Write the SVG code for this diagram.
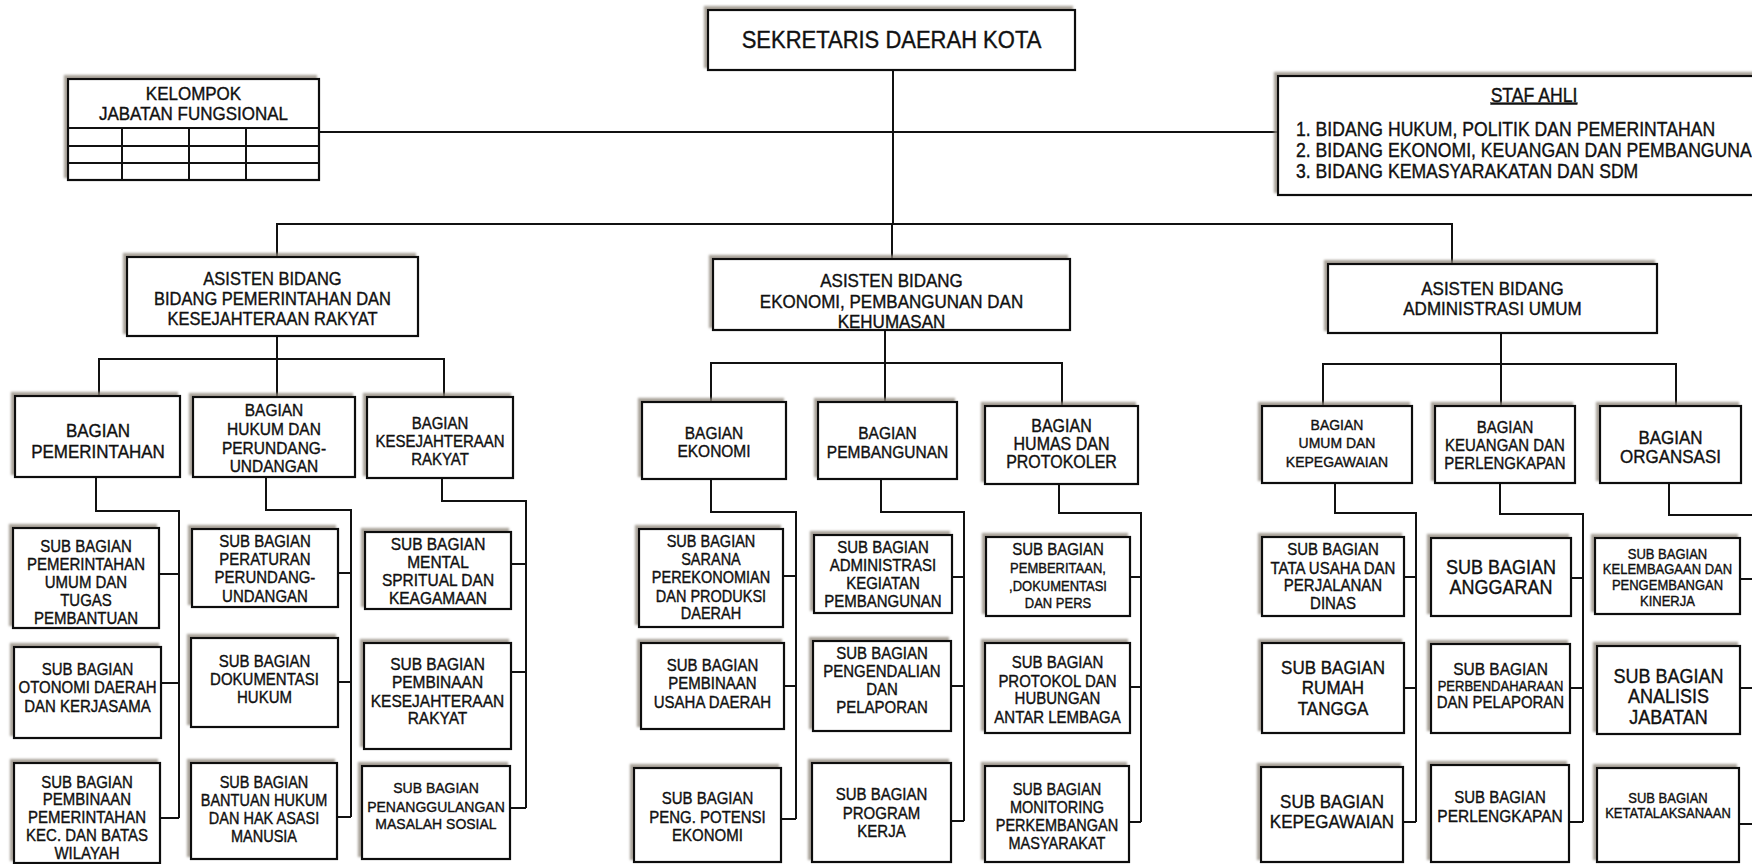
<svg xmlns="http://www.w3.org/2000/svg" width="1752" height="864" viewBox="0 0 1752 864">
<defs>
<filter id="sh" x="-10%" y="-10%" width="120%" height="120%">
<feDropShadow dx="-3" dy="-3" stdDeviation="0.8" flood-color="#8f877c" flood-opacity="0.75"/>
</filter>
<style>
.box{fill:#fff;stroke:#111;stroke-width:2.2;filter:url(#sh)}
.ln{fill:none;stroke:#111;stroke-width:2}
text{font-family:"Liberation Sans",Arial,sans-serif;fill:#111;stroke:#111;stroke-width:0.35;text-anchor:middle;transform-box:fill-box;transform-origin:center;transform:scaleY(1.1)}
.f13{font-size:13px}.f14{font-size:14px}.f145{font-size:14.5px}.f15{font-size:15px}.f155{font-size:15.5px}
.f16{font-size:16px}.f165{font-size:16.5px}.f17{font-size:17px}.f176{font-size:17.6px}.f18{font-size:18px}.f22{font-size:22px}
.lft{text-anchor:start}
</style>
</defs>
<rect width="1752" height="864" fill="#fff"/>

<g id="connectors">
<path class="ln" d="M319,132 H1278"/>
<path class="ln" d="M893,70 V224"/>
<path class="ln" d="M277,257 V224 H1452 V264"/>
<path class="ln" d="M892,224 V259"/>
<path class="ln" d="M277,336 V359 M99,396 V359 H444 V397 M277,359 V397"/>
<path class="ln" d="M885,330 V363 M711,402 V363 H1062 V406 M885,363 V402"/>
<path class="ln" d="M1501,333 V364 M1323,406 V364 H1676 V406 M1501,364 V406"/>
<path class="ln" d="M96,477 V511 H179 V818 M159,574 H179 M161,683 H179 M160,818 H179"/>
<path class="ln" d="M266,477 V510 H351 V817 M338,573 H351 M338,682 H351 M337,817 H351"/>
<path class="ln" d="M442,478 V501 H526 V808 M511,564 H526 M511,672 H526 M510,808 H526"/>
<path class="ln" d="M711,479 V512 H796 V819 M783,576 H796 M784,686 H796 M781,819 H796"/>
<path class="ln" d="M881,479 V512 H964 V821 M952,577 H964 M951,686 H964 M951,821 H964"/>
<path class="ln" d="M1059,484 V513 H1141 V822 M1130,577 H1141 M1130,687 H1141 M1129,822 H1141"/>
<path class="ln" d="M1335,483 V513 H1416 V822 M1404,577 H1416 M1404,688 H1416 M1403,822 H1416"/>
<path class="ln" d="M1500,483 V514 H1583 V822 M1571,578 H1583 M1570,688 H1583 M1569,822 H1583"/>
<path class="ln" d="M1669,483 V515 H1760 M1740,579 H1760 M1740,688 H1760 M1739,824 H1760"/>
</g>

<g id="sekda">
<rect class="box" x="708" y="10" width="367" height="60"/>
<text class="f22" x="891.5" y="47">SEKRETARIS DAERAH KOTA</text>
</g>

<g id="kelompok">
<rect class="box" x="68" y="79" width="251" height="101"/>
<text class="f17" x="193.5" y="99">KELOMPOK</text>
<text class="f17" x="193.5" y="119">JABATAN FUNGSIONAL</text>
<path class="ln" d="M68,128 H319 M68,146 H319 M68,163 H319 M122,128 V180 M189,128 V180 M246,128 V180"/>
</g>

<g id="staf-ahli">
<rect class="box" x="1278" y="76" width="500" height="119"/>
<text class="f176" x="1534" y="101" text-decoration="underline">STAF AHLI</text>
<text class="f176 lft" x="1296" y="135">1. BIDANG HUKUM, POLITIK DAN PEMERINTAHAN</text>
<text class="f176 lft" x="1296" y="156">2. BIDANG EKONOMI, KEUANGAN DAN PEMBANGUNAN</text>
<text class="f176 lft" x="1296" y="177">3. BIDANG KEMASYARAKATAN DAN SDM</text>
</g>

<g id="asisten-1">
<rect class="box" x="127" y="257" width="291" height="79"/>
<text class="f165" x="272.5" y="284">ASISTEN BIDANG</text>
<text class="f165" x="272.5" y="304">BIDANG PEMERINTAHAN DAN</text>
<text class="f165" x="272.5" y="324">KESEJAHTERAAN RAKYAT</text>
</g>
<g id="asisten-2">
<rect class="box" x="713" y="259" width="357" height="71"/>
<text class="f17" x="891.5" y="286">ASISTEN BIDANG</text>
<text class="f17" x="891.5" y="307">EKONOMI, PEMBANGUNAN DAN</text>
<text class="f17" x="891.5" y="327">KEHUMASAN</text>
</g>
<g id="asisten-3">
<rect class="box" x="1328" y="264" width="329" height="69"/>
<text class="f17" x="1492.5" y="294">ASISTEN BIDANG</text>
<text class="f17" x="1492.5" y="314">ADMINISTRASI UMUM</text>
</g>

<g id="bagian-pemerintahan">
<rect class="box" x="15" y="396" width="165" height="81"/>
<text class="f17" x="98" y="436">BAGIAN</text>
<text class="f17" x="98" y="457">PEMERINTAHAN</text>
</g>
<g id="bagian-hukum">
<rect class="box" x="193" y="397" width="162" height="80"/>
<text class="f155" x="274" y="415">BAGIAN</text>
<text class="f155" x="274" y="434">HUKUM DAN</text>
<text class="f155" x="274" y="453">PERUNDANG-</text>
<text class="f155" x="274" y="471">UNDANGAN</text>
</g>
<g id="bagian-kesra">
<rect class="box" x="367" y="397" width="146" height="81"/>
<text class="f15" x="440" y="428">BAGIAN</text>
<text class="f15" x="440" y="446">KESEJAHTERAAN</text>
<text class="f15" x="440" y="464">RAKYAT</text>
</g>
<g id="bagian-ekonomi">
<rect class="box" x="642" y="402" width="144" height="77"/>
<text class="f155" x="714" y="438">BAGIAN</text>
<text class="f155" x="714" y="456">EKONOMI</text>
</g>
<g id="bagian-pembangunan">
<rect class="box" x="818" y="402" width="139" height="77"/>
<text class="f155" x="887.5" y="438">BAGIAN</text>
<text class="f155" x="887.5" y="457">PEMBANGUNAN</text>
</g>
<g id="bagian-humas">
<rect class="box" x="985" y="406" width="153" height="78"/>
<text class="f16" x="1061.5" y="431">BAGIAN</text>
<text class="f16" x="1061.5" y="449">HUMAS DAN</text>
<text class="f16" x="1061.5" y="467">PROTOKOLER</text>
</g>
<g id="bagian-umum">
<rect class="box" x="1262" y="406" width="150" height="77"/>
<text class="f14" x="1337" y="430">BAGIAN</text>
<text class="f14" x="1337" y="448">UMUM DAN</text>
<text class="f14" x="1337" y="467">KEPEGAWAIAN</text>
</g>
<g id="bagian-keuangan">
<rect class="box" x="1435" y="406" width="140" height="77"/>
<text class="f15" x="1505" y="432">BAGIAN</text>
<text class="f15" x="1505" y="450">KEUANGAN DAN</text>
<text class="f15" x="1505" y="468">PERLENGKAPAN</text>
</g>
<g id="bagian-organsasi">
<rect class="box" x="1600" y="406" width="141" height="77"/>
<text class="f17" x="1670.5" y="443">BAGIAN</text>
<text class="f17" x="1670.5" y="462">ORGANSASI</text>
</g>

<g id="sb-pemerintahan-umum">
<rect class="box" x="13" y="528" width="146" height="100"/>
<text class="f15" x="86" y="551">SUB BAGIAN</text>
<text class="f15" x="86" y="569">PEMERINTAHAN</text>
<text class="f15" x="86" y="587">UMUM DAN</text>
<text class="f15" x="86" y="605">TUGAS</text>
<text class="f15" x="86" y="623">PEMBANTUAN</text>
</g>
<g id="sb-otonomi">
<rect class="box" x="14" y="647" width="147" height="91"/>
<text class="f15" x="87.5" y="674">SUB BAGIAN</text>
<text class="f15" x="87.5" y="692">OTONOMI DAERAH</text>
<text class="f15" x="87.5" y="711">DAN KERJASAMA</text>
</g>
<g id="sb-pembinaan-pemerintahan">
<rect class="box" x="14" y="763" width="146" height="100"/>
<text class="f15" x="87" y="787">SUB BAGIAN</text>
<text class="f15" x="87" y="804">PEMBINAAN</text>
<text class="f15" x="87" y="822">PEMERINTAHAN</text>
<text class="f15" x="87" y="840">KEC. DAN BATAS</text>
<text class="f15" x="87" y="858">WILAYAH</text>
</g>
<g id="sb-peraturan">
<rect class="box" x="192" y="529" width="146" height="78"/>
<text class="f15" x="265" y="546">SUB BAGIAN</text>
<text class="f15" x="265" y="564">PERATURAN</text>
<text class="f15" x="265" y="582">PERUNDANG-</text>
<text class="f15" x="265" y="601">UNDANGAN</text>
</g>
<g id="sb-dokumentasi">
<rect class="box" x="191" y="638" width="147" height="89"/>
<text class="f15" x="264.5" y="666">SUB BAGIAN</text>
<text class="f15" x="264.5" y="684">DOKUMENTASI</text>
<text class="f15" x="264.5" y="702">HUKUM</text>
</g>
<g id="sb-bantuan-hukum">
<rect class="box" x="191" y="763" width="146" height="96"/>
<text class="f145" x="264" y="787">SUB BAGIAN</text>
<text class="f145" x="264" y="805">BANTUAN HUKUM</text>
<text class="f145" x="264" y="823">DAN HAK ASASI</text>
<text class="f145" x="264" y="841">MANUSIA</text>
</g>
<g id="sb-mental">
<rect class="box" x="365" y="532" width="146" height="77"/>
<text class="f155" x="438" y="549">SUB BAGIAN</text>
<text class="f155" x="438" y="567">MENTAL</text>
<text class="f155" x="438" y="585">SPRITUAL DAN</text>
<text class="f155" x="438" y="603">KEAGAMAAN</text>
</g>
<g id="sb-pembinaan-kesra">
<rect class="box" x="364" y="643" width="147" height="106"/>
<text class="f155" x="437.5" y="669">SUB BAGIAN</text>
<text class="f155" x="437.5" y="687">PEMBINAAN</text>
<text class="f155" x="437.5" y="706">KESEJAHTERAAN</text>
<text class="f155" x="437.5" y="723">RAKYAT</text>
</g>
<g id="sb-penanggulangan">
<rect class="box" x="362" y="766" width="148" height="93"/>
<text class="f14" x="436" y="793">SUB BAGIAN</text>
<text class="f14" x="436" y="812">PENANGGULANGAN</text>
<text class="f14" x="436" y="829">MASALAH SOSIAL</text>
</g>

<g id="sb-sarana">
<rect class="box" x="639" y="529" width="144" height="98"/>
<text class="f145" x="711" y="546">SUB BAGIAN</text>
<text class="f145" x="711" y="564">SARANA</text>
<text class="f145" x="711" y="582">PEREKONOMIAN</text>
<text class="f145" x="711" y="601">DAN PRODUKSI</text>
<text class="f145" x="711" y="618">DAERAH</text>
</g>
<g id="sb-pembinaan-usaha">
<rect class="box" x="641" y="643" width="143" height="86"/>
<text class="f15" x="712.5" y="670">SUB BAGIAN</text>
<text class="f15" x="712.5" y="688">PEMBINAAN</text>
<text class="f15" x="712.5" y="707">USAHA DAERAH</text>
</g>
<g id="sb-potensi">
<rect class="box" x="634" y="768" width="147" height="94"/>
<text class="f15" x="707.5" y="803">SUB BAGIAN</text>
<text class="f15" x="707.5" y="822">PENG. POTENSI</text>
<text class="f15" x="707.5" y="840">EKONOMI</text>
</g>
<g id="sb-administrasi">
<rect class="box" x="814" y="535" width="138" height="78"/>
<text class="f15" x="883" y="552">SUB BAGIAN</text>
<text class="f15" x="883" y="570">ADMINISTRASI</text>
<text class="f15" x="883" y="588">KEGIATAN</text>
<text class="f15" x="883" y="606">PEMBANGUNAN</text>
</g>
<g id="sb-pengendalian">
<rect class="box" x="813" y="641" width="138" height="90"/>
<text class="f15" x="882" y="658">SUB BAGIAN</text>
<text class="f15" x="882" y="676">PENGENDALIAN</text>
<text class="f15" x="882" y="694">DAN</text>
<text class="f15" x="882" y="712">PELAPORAN</text>
</g>
<g id="sb-program">
<rect class="box" x="812" y="763" width="139" height="99"/>
<text class="f15" x="881.5" y="799">SUB BAGIAN</text>
<text class="f15" x="881.5" y="818">PROGRAM</text>
<text class="f15" x="881.5" y="836">KERJA</text>
</g>
<g id="sb-pemberitaan">
<rect class="box" x="986" y="537" width="144" height="79"/>
<text class="f15" x="1058" y="554">SUB BAGIAN</text>
<text class="f13" x="1058" y="573">PEMBERITAAN,</text>
<text class="f13" x="1058" y="591">,DOKUMENTASI</text>
<text class="f13" x="1058" y="608">DAN PERS</text>
</g>
<g id="sb-protokol">
<rect class="box" x="985" y="643" width="145" height="90"/>
<text class="f15" x="1057.5" y="667">SUB BAGIAN</text>
<text class="f15" x="1057.5" y="686">PROTOKOL DAN</text>
<text class="f15" x="1057.5" y="703">HUBUNGAN</text>
<text class="f15" x="1057.5" y="722">ANTAR LEMBAGA</text>
</g>
<g id="sb-monitoring">
<rect class="box" x="985" y="766" width="144" height="96"/>
<text class="f145" x="1057" y="794">SUB BAGIAN</text>
<text class="f145" x="1057" y="812">MONITORING</text>
<text class="f145" x="1057" y="830">PERKEMBANGAN</text>
<text class="f145" x="1057" y="848">MASYARAKAT</text>
</g>

<g id="sb-tata-usaha">
<rect class="box" x="1262" y="537" width="142" height="79"/>
<text class="f15" x="1333" y="554">SUB BAGIAN</text>
<text class="f15" x="1333" y="573">TATA USAHA DAN</text>
<text class="f15" x="1333" y="590">PERJALANAN</text>
<text class="f15" x="1333" y="608">DINAS</text>
</g>
<g id="sb-rumah-tangga">
<rect class="box" x="1262" y="643" width="142" height="90"/>
<text class="f17" x="1333" y="673">SUB BAGIAN</text>
<text class="f17" x="1333" y="693">RUMAH</text>
<text class="f17" x="1333" y="714">TANGGA</text>
</g>
<g id="sb-kepegawaian">
<rect class="box" x="1261" y="767" width="142" height="95"/>
<text class="f17" x="1332" y="807">SUB BAGIAN</text>
<text class="f17" x="1332" y="827">KEPEGAWAIAN</text>
</g>
<g id="sb-anggaran">
<rect class="box" x="1431" y="538" width="140" height="78"/>
<text class="f18" x="1501" y="573">SUB BAGIAN</text>
<text class="f18" x="1501" y="593">ANGGARAN</text>
</g>
<g id="sb-perbendaharaan">
<rect class="box" x="1431" y="644" width="139" height="89"/>
<text class="f155" x="1500.5" y="674">SUB BAGIAN</text>
<text class="f13" x="1500.5" y="691">PERBENDAHARAAN</text>
<text class="f15" x="1500.5" y="707">DAN PELAPORAN</text>
</g>
<g id="sb-perlengkapan">
<rect class="box" x="1431" y="765" width="138" height="97"/>
<text class="f15" x="1500" y="802">SUB BAGIAN</text>
<text class="f155" x="1500" y="821">PERLENGKAPAN</text>
</g>
<g id="sb-kelembagaan">
<rect class="box" x="1595" y="538" width="145" height="76"/>
<text class="f13" x="1667.5" y="559">SUB BAGIAN</text>
<text class="f13" x="1667.5" y="574">KELEMBAGAAN DAN</text>
<text class="f13" x="1667.5" y="590">PENGEMBANGAN</text>
<text class="f13" x="1667.5" y="606">KINERJA</text>
</g>
<g id="sb-analisis">
<rect class="box" x="1597" y="646" width="143" height="88"/>
<text class="f18" x="1668.5" y="682">SUB BAGIAN</text>
<text class="f18" x="1668.5" y="702">ANALISIS</text>
<text class="f18" x="1668.5" y="723">JABATAN</text>
</g>
<g id="sb-ketatalaksanaan">
<rect class="box" x="1597" y="768" width="142" height="94"/>
<text class="f13" x="1668" y="803">SUB BAGIAN</text>
<text class="f13" x="1668" y="818">KETATALAKSANAAN</text>
</g>
</svg>
